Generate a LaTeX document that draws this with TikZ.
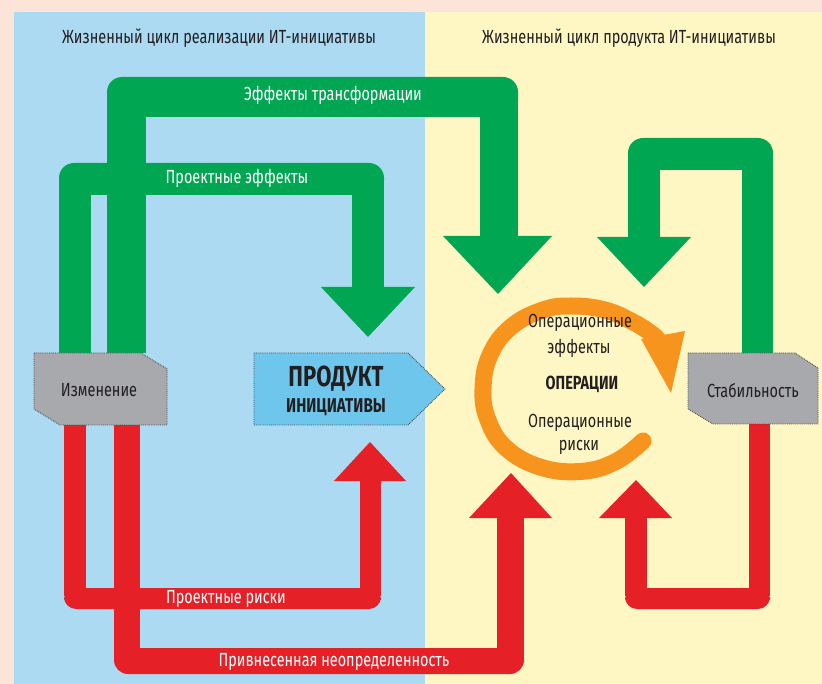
\documentclass[tikz,border=0pt]{standalone}
\usepackage{fontspec}
\setmainfont{Fira Sans}[FakeStretch=0.76]
\definecolor{peach}{HTML}{FCE4D8}
\definecolor{panelblue}{HTML}{ACDAF2}
\definecolor{panelyellow}{HTML}{FEF7C4}
\definecolor{grn}{HTML}{00A651}
\definecolor{rd}{HTML}{E52127}
\definecolor{orng}{HTML}{F7941D}
\definecolor{grayfill}{HTML}{A7A9AC}
\definecolor{graydark}{HTML}{4D4D4F}
\definecolor{prodblue}{HTML}{6FC6EC}
\definecolor{txt}{HTML}{231F20}
\tikzset{
  gbar/.style={fill=grn},
  rbar/.style={fill=rd},
  lbl/.style={font=\fontsize{19}{22}\selectfont, text=txt, inner sep=0pt},
  wlbl/.style={lbl, text=white},
  blbl/.style={lbl, font=\fontsize{19}{22}\selectfont\bfseries},
  graybox/.style={fill=grayfill, draw=graydark, densely dotted, line width=0.9pt},
  prodbox/.style={fill=prodblue, draw=graydark, densely dotted, line width=0.9pt},
}
\begin{document}
\begin{tikzpicture}[x=1pt,y=-1pt]
\useasboundingbox (0,0) rectangle (822,684);
% backgrounds
\fill[peach] (0,0) rectangle (822,684);
\fill[panelblue] (14,12) rectangle (425,684);
\fill[panelyellow] (425,12) rectangle (822,684);
\node[lbl] (hleft) at (219,38) {Жизненный цикл реализации ИТ-инициативы};
\node[lbl] (hright) at (629,38) {Жизненный цикл продукта ИТ-инициативы};

% green outer loop (transformation effects)
\fill[gbar, rounded corners=15] (107,77) rectangle (518,117);
\fill[gbar] (107,95) rectangle (146,353);
\fill[gbar] (480,95) rectangle (518,237);
\fill[gbar] (443,236) -- (552,236) -- (498,294) -- cycle;
% green inner loop (project effects)
\fill[gbar, rounded corners=15] (59,163) rectangle (384,195);
\fill[gbar] (59,180) rectangle (91,353);
\fill[gbar] (352,180) rectangle (384,288);
\fill[gbar] (321,287) -- (415,287) -- (368,337) -- cycle;
% green right loop
\fill[gbar, rounded corners=15] (628,138) rectangle (773,170);
\fill[gbar] (628,155) rectangle (660,238);
\fill[gbar] (742,155) rectangle (773,353);
\fill[gbar] (597,237) -- (691,237) -- (644,287) -- cycle;

% red inner loop (project risks)
\fill[rbar, rounded corners=12] (64,588) rectangle (381,609);
\fill[rbar] (64,425) rectangle (86,596);
\fill[rbar] (360,480) rectangle (381,596);
\fill[rbar] (334,481) -- (406,481) -- (370,442) -- cycle;
% red outer loop (introduced uncertainty)
\fill[rbar, rounded corners=14] (114,648) rectangle (524,674);
\fill[rbar] (114,425) rectangle (140,660);
\fill[rbar] (497,517) rectangle (524,660);
\fill[rbar] (469,518) -- (552,518) -- (511,473) -- cycle;
% red right loop
\fill[rbar, rounded corners=12] (625,588) rectangle (770,609);
\fill[rbar] (625,517) rectangle (647,596);
\fill[rbar] (749,424) rectangle (770,596);
\fill[rbar] (599,518) -- (672,518) -- (636,480) -- cycle;

% loop labels
\node[wlbl] (ltrans) at (333,95) {Эффекты трансформации};
\node[wlbl] (lproj) at (237,178) {Проектные эффекты};
\node[wlbl] (lrisk) at (226,599) {Проектные риски};
\node[wlbl] (lunc) at (334,662) {Привнесенная неопределенность};

% boxes
\draw[graybox] (34,353) -- (141,353) -- (167,369) -- (167,425) -- (60,425) -- (34,409) -- cycle;
\node[lbl] (change) at (99,390) {Изменение};
\draw[graybox] (688,353) -- (795,353) -- (818,368) -- (818,424) -- (713,424) -- (688,409) -- cycle;
\node[lbl] (stab) at (753,390) {Стабильность};
\draw[prodbox] (254,353) -- (408,353) -- (445,389) -- (408,425) -- (254,425) -- cycle;
\node[lbl, font=\fontsize{29}{32}\selectfont\bfseries] (prod) at (336,379) {ПРОДУКТ};
\node[blbl, font=\fontsize{20}{24}\selectfont\bfseries] (init) at (336,407) {ИНИЦИАТИВЫ};

% orange cycle
\draw[orng, line width=17, line cap=round] plot[smooth, tension=0.7] coordinates {
  (643,441) (615,462) (580,471.5) (540,467) (506,448) (488,420) (483,389)
  (490,355) (511,327) (543,310) (572,306) (605,310) (633,322) (652,334) (658,340)};
\fill[orng] (641,339) -- (685,331) -- (671,393) -- cycle;
\node[lbl] (opeff1) at (580,323) {Операционные};
\node[lbl] (opeff2) at (579,348) {эффекты};
\node[blbl] (ops) at (582,384) {ОПЕРАЦИИ};
\node[lbl] (oprisk1) at (580,423) {Операционные};
\node[lbl] (oprisk2) at (579,447) {риски};
\end{tikzpicture}
\end{document}
